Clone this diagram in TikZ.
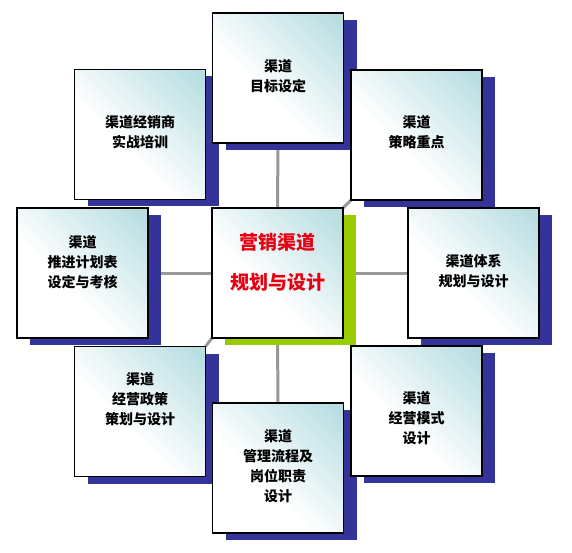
\documentclass[tikz,border=0pt]{standalone}
\usepackage{fontspec}
\newfontfamily\cjk{Noto Sans CJK SC}
\usetikzlibrary{calc}
\definecolor{shadowblue}{HTML}{333399}
\definecolor{shadowgreen}{HTML}{99CC00}
\definecolor{boxcyan}{HTML}{B8DEE2}
\definecolor{conngray}{HTML}{999999}
\definecolor{titlered}{HTML}{E60012}
\pgfdeclarehorizontalshading{boxshade}{100bp}{color(0bp)=(white); color(42bp)=(white); color(82bp)=(boxcyan); color(100bp)=(boxcyan)}
\pgfdeclarelayer{bg}
\pgfdeclarelayer{shad}
\pgfsetlayers{bg,shad,main}
\begin{document}
\begin{tikzpicture}[x=1pt,y=-1pt,
  box/.style={draw=black, line width=1.1pt, minimum width=131pt, minimum height=130pt, shading=boxshade, shading angle=45, inner sep=0pt, outer sep=0pt},
  txt/.style={font=\cjk\bfseries\fontsize{14}{20}\selectfont, align=center, inner sep=0pt},
  ctxt/.style={font=\cjk\bfseries\fontsize{19}{40}\selectfont, align=center, inner sep=0pt, text=titlered},
  conn/.style={draw=conngray, line width=3pt},
  blueshadow/.style={fill=shadowblue},
  greenshadow/.style={fill=shadowgreen}]
\useasboundingbox (0,0) rectangle (572,553);

\node[box] (T)  at (278,78)    {};
\node[box] (UL) at (140,134.5) {};
\node[box] (UR) at (416.5,135) {};
\node[box] (L)  at (82.5,273)  {};
\node[box] (C)  at (277.5,273) {};
\node[box] (R)  at (473.5,273) {};
\node[box] (LL) at (140,411.5) {};
\node[box] (B)  at (278,468)   {};
\node[box] (LR) at (416.5,411) {};

\node[txt] (Tt)  at ($(T.center)+(0,-2)$)  {渠道\\目标设定};
\node[txt] (ULt) at ($(UL.center)+(0,-2)$) {渠道经销商\\实战培训};
\node[txt] (URt) at ($(UR.center)+(0,-3)$) {渠道\\策略重点};
\node[txt] (Lt)  at ($(L.center)+(0,-11)$) {渠道\\推进计划表\\设定与考核};
\node[ctxt] (Ct) at ($(C.center)+(0,-11)$) {营销渠道\\规划与设计};
\node[txt] (Rt)  at ($(R.center)+(0,-2)$)  {渠道体系\\规划与设计};
\node[txt] (LLt) at ($(LL.center)+(0,-12)$) {渠道\\经营政策\\策划与设计};
\node[txt] (Bt)  at ($(B.center)+(0,-2)$)  {渠道\\管理流程及\\岗位职责\\设计};
\node[txt] (LRt) at ($(LR.center)+(0,7)$)  {渠道\\经营模式\\设计};

\begin{pgfonlayer}{bg}
  \draw[conn] (T.south) -- (C.north);
  \draw[conn] (C.south) -- (B.north);
  \draw[conn] (L.east) -- (C.west);
  \draw[conn] (C.east) -- (R.west);
  \draw[conn] (C.north east) -- (UR.south west);
  \draw[conn] (C.south west) -- (LL.north east);
\end{pgfonlayer}

\begin{pgfonlayer}{shad}
  \foreach \n in {T,UL,UR,L,R,LL,B,LR}{
    \fill[blueshadow] ($(\n.south west)+(13,7)$) rectangle ($(\n.north east)+(13,7)$);
  }
  \fill[greenshadow] ($(C.south west)+(13,7)$) rectangle ($(C.north east)+(13,7)$);
\end{pgfonlayer}
\end{tikzpicture}
\end{document}
